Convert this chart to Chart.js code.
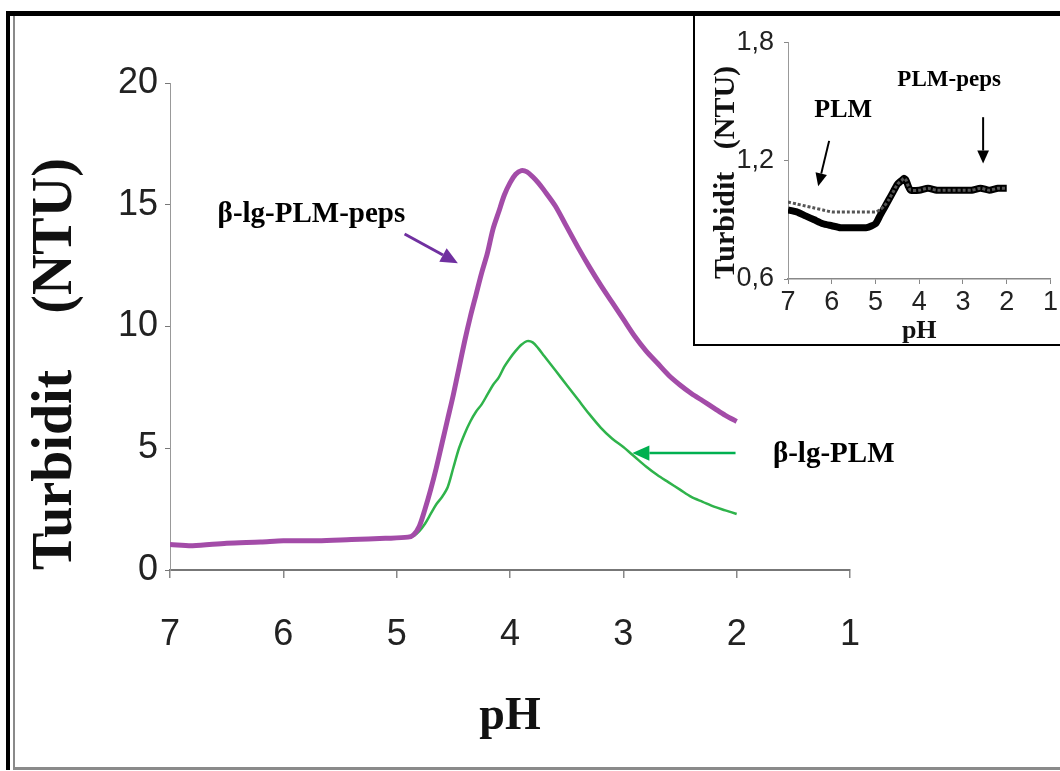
<!DOCTYPE html>
<html>
<head>
<meta charset="utf-8">
<script src="https://cdn.jsdelivr.net/npm/chart.js@4.4.1/dist/chart.umd.min.js"></script>
<style>
  html, body { margin: 0; padding: 0; background: #fff; }
  body { width: 1060px; height: 771px; position: relative; overflow: hidden; }
  #main { position: absolute; left: 0; top: 0; }
  #frame { position: absolute; left: 6px; top: 11px; width: 1060px; height: 759px; box-sizing: border-box;
           border-top: 5px solid #000; border-left: 4px solid #000; pointer-events: none; }
  #frameInner { position: absolute; left: 3px; top: 0; right: 0; bottom: 0; box-sizing: border-box;
                border-left: 2px solid #8a8a8a; border-bottom: 3px solid #8a8a8a; }
  #insetBox { position: absolute; left: 693px; top: 16px; width: 367px; height: 330px; box-sizing: border-box;
              border-left: 2px solid #000; border-bottom: 2px solid #000; background: #fff; }
  #inset { position: absolute; left: 0; top: 0; }
</style>
</head>
<body>
<canvas id="main" width="1060" height="771"></canvas>
<div id="frame"><div id="frameInner"></div></div>
<div id="insetBox"><canvas id="inset" width="365" height="328"></canvas></div>
<script>
// main plot: turbidity (NTU) against pH, titration from pH 7 down to 2
const phMain = [7.0, 6.8, 6.5, 6.2, 6.0, 5.7, 5.4, 5.1, 4.9, 4.85,
  4.8, 4.75, 4.7, 4.65, 4.6, 4.55, 4.5, 4.45, 4.4, 4.35,
  4.3, 4.25, 4.2, 4.15, 4.1, 4.05, 4.0, 3.95, 3.9, 3.85,
  3.8, 3.75, 3.7, 3.6, 3.5, 3.4, 3.3, 3.2, 3.1, 3.0,
  2.9, 2.8, 2.7, 2.6, 2.5, 2.4, 2.3, 2.2, 2.1, 2.0];
const lgPlmPeps = [1.05, 1.0, 1.1, 1.15, 1.2, 1.2, 1.25, 1.3, 1.35, 1.45,
  1.8, 2.5, 3.3, 4.2, 5.2, 6.2, 7.2, 8.3, 9.4, 10.4,
  11.3, 12.2, 13.0, 14.0, 14.7, 15.4, 15.9, 16.25, 16.4, 16.35,
  16.15, 15.9, 15.6, 14.95, 14.1, 13.25, 12.45, 11.7, 11.0, 10.3,
  9.6, 9.0, 8.5, 8.0, 7.6, 7.25, 6.95, 6.65, 6.35, 6.1];
const lgPlm = [1.05, 1.0, 1.1, 1.15, 1.2, 1.2, 1.25, 1.3, 1.35, 1.4,
  1.6, 1.9, 2.3, 2.7, 3.0, 3.4, 4.2, 5.0, 5.6, 6.1,
  6.5, 6.8, 7.2, 7.6, 7.9, 8.35, 8.7, 9.0, 9.25, 9.4,
  9.35, 9.1, 8.8, 8.2, 7.6, 7.0, 6.4, 5.85, 5.4, 5.05,
  4.65, 4.25, 3.9, 3.6, 3.3, 3.0, 2.8, 2.6, 2.45, 2.3];

// inset: the polymer alone and with peptides
const phInset = [7.0, 6.8, 6.6, 6.4, 6.2, 6.0, 5.8, 5.6, 5.4, 5.2,
  5.0, 4.9, 4.8, 4.7, 4.6, 4.5, 4.4, 4.35, 4.3, 4.25,
  4.2, 4.0, 3.8, 3.6, 3.4, 3.2, 3.0, 2.8, 2.6, 2.4, 2.2, 2.0];
const plm = [0.95, 0.94, 0.92, 0.90, 0.88, 0.87, 0.86, 0.86, 0.86, 0.86,
  0.88, 0.92, 0.96, 1.00, 1.04, 1.08, 1.10, 1.11, 1.10, 1.07,
  1.05, 1.05, 1.06, 1.05, 1.05, 1.05, 1.05, 1.05, 1.06, 1.05, 1.06, 1.06];
const plmPeps = [0.99, 0.98, 0.97, 0.96, 0.95, 0.94, 0.94, 0.94, 0.94, 0.94,
  0.94, 0.95, 0.97, 1.00, 1.04, 1.08, 1.10, 1.11, 1.10, 1.07,
  1.05, 1.05, 1.06, 1.05, 1.05, 1.05, 1.05, 1.05, 1.06, 1.05, 1.06, 1.06];

const xTicksMain = [7, 6, 5, 4, 3, 2, 1];
const yTicksMain = [0, 5, 10, 15, 20];
const yTicksInset = [0.6, 1.2, 1.8];

const SANS = '"Liberation Sans", Arial, sans-serif';
const SERIF = '"Liberation Serif", "Times New Roman", serif';

function pts(xs, ys) {
  return xs.map((x, i) => ({ x: x, y: ys[i] }));
}

function drawArrow(ctx, x1, y1, x2, y2, color, w, head) {
  const a = Math.atan2(y2 - y1, x2 - x1);
  const bx = x2 - head * Math.cos(a), by = y2 - head * Math.sin(a);
  ctx.strokeStyle = color;
  ctx.fillStyle = color;
  ctx.lineWidth = w;
  ctx.beginPath();
  ctx.moveTo(x1, y1);
  ctx.lineTo(bx, by);
  ctx.stroke();
  ctx.beginPath();
  ctx.moveTo(x2, y2);
  ctx.lineTo(bx + head * 0.45 * Math.sin(a), by - head * 0.45 * Math.cos(a));
  ctx.lineTo(bx - head * 0.45 * Math.sin(a), by + head * 0.45 * Math.cos(a));
  ctx.closePath();
  ctx.fill();
}

// labels and arrows placed in data coordinates
const arrowLabels = {
  id: 'arrowLabels',
  afterDatasetsDraw(chart, args, opts) {
    const { ctx } = chart;
    const sx = chart.scales.x, sy = chart.scales.y;
    ctx.save();
    (opts.items || []).forEach(it => {
      if (it.text) {
        ctx.font = it.font;
        ctx.fillStyle = '#000';
        ctx.textBaseline = 'alphabetic';
        ctx.textAlign = 'left';
        ctx.fillText(it.text, sx.getPixelForValue(it.at[0]), sy.getPixelForValue(it.at[1]));
      } else {
        drawArrow(ctx, sx.getPixelForValue(it.from[0]), sy.getPixelForValue(it.from[1]),
          sx.getPixelForValue(it.to[0]), sy.getPixelForValue(it.to[1]), it.color, it.width, it.head);
      }
    });
    ctx.restore();
  }
};

function fixedTicks(values) {
  return scale => { scale.ticks = values.map(v => ({ value: v })); };
}

new Chart(document.getElementById('main'), {
  type: 'line',
  data: {
    datasets: [
      { label: 'β-lg-PLM-peps', data: pts(phMain, lgPlmPeps), borderColor: '#a34ca8',
        borderWidth: 5, pointRadius: 0, tension: 0.3 },
      { label: 'β-lg-PLM', data: pts(phMain, lgPlm), borderColor: '#2fb34b',
        borderWidth: 2.5, pointRadius: 0, tension: 0.3 }
    ]
  },
  options: {
    responsive: false,
    animation: false,
    events: [],
    layout: { padding: { left: 0, top: 83, right: 210, bottom: 0 } },
    plugins: {
      legend: { display: false },
      tooltip: { enabled: false },
      arrowLabels: {
        items: [
          { text: 'β-lg-PLM-peps', at: [6.58, 14.3], font: 'bold 29px ' + SERIF },
          { from: [4.93, 13.8], to: [4.46, 12.6], color: '#7030a0', width: 3, head: 17 },
          { text: 'β-lg-PLM', at: [1.68, 4.43], font: 'bold 29px ' + SERIF },
          { from: [2.01, 4.8], to: [2.92, 4.8], color: '#00b050', width: 2.5, head: 17 }
        ]
      }
    },
    scales: {
      x: {
        type: 'linear', reverse: true, min: 1, max: 7,
        afterFit: s => { s.height = 201; },
        afterBuildTicks: fixedTicks(xTicksMain),
        ticks: { padding: 35, color: '#222', font: { family: SANS, size: 36 } },
        grid: { drawOnChartArea: false, tickLength: 8, color: '#888', lineWidth: 1.5 },
        border: { color: '#777', width: 2 },
        title: { display: true, text: 'pH', color: '#111',
          font: { family: SERIF, size: 46, weight: 'bold' }, padding: { top: 0, bottom: 26 } }
      },
      y: {
        type: 'linear', min: 0, max: 20,
        afterFit: s => { s.width = 170; },
        afterBuildTicks: fixedTicks(yTicksMain),
        ticks: { padding: 7, color: '#222', font: { family: SANS, size: 36 } },
        grid: { drawOnChartArea: false, tickLength: 5, color: '#777' },
        border: { color: '#999', width: 1, dash: [2, 2] },
        title: { display: true, text: 'Turbidit    (NTU)', align: 'start', color: '#111',
          font: { family: SERIF, size: 56, weight: 'bold' }, padding: { top: 23, bottom: 0 } }
      }
    }
  },
  plugins: [arrowLabels]
});

new Chart(document.getElementById('inset'), {
  type: 'line',
  data: {
    datasets: [
      { label: 'PLM-peps', data: pts(phInset, plmPeps), borderColor: '#555',
        borderWidth: 3, borderDash: [3, 2], pointRadius: 0, tension: 0.2 },
      { label: 'PLM', data: pts(phInset, plm), borderColor: '#000',
        borderWidth: 7, pointRadius: 0, tension: 0.2 }
    ]
  },
  options: {
    responsive: false,
    animation: false,
    events: [],
    layout: { padding: { left: 0, top: 25, right: 3, bottom: 0 } },
    plugins: {
      legend: { display: false },
      tooltip: { enabled: false },
      arrowLabels: {
        items: [
          { text: 'PLM', at: [6.40, 1.42], font: 'bold 26px ' + SERIF },
          { from: [6.06, 1.30], to: [6.31, 1.07], color: '#000', width: 2, head: 13 },
          { text: 'PLM-peps', at: [4.50, 1.58], font: 'bold 23px ' + SERIF },
          { from: [2.54, 1.42], to: [2.54, 1.185], color: '#000', width: 2, head: 13 }
        ]
      }
    },
    scales: {
      x: {
        type: 'linear', reverse: true, min: 1, max: 7,
        afterFit: s => { s.height = 65; },
        afterBuildTicks: fixedTicks(xTicksMain),
        ticks: { padding: 2, color: '#222', font: { family: SANS, size: 27 } },
        grid: { drawOnChartArea: false, tickLength: 5, color: '#888' },
        border: { color: '#888', width: 1.5 },
        title: { display: true, text: 'pH', color: '#111',
          font: { family: SERIF, size: 26, weight: 'bold', lineHeight: 1 }, padding: { top: 0, bottom: 0 } }
      },
      y: {
        type: 'linear', min: 0.6, max: 1.8,
        afterFit: s => { s.width = 93; },
        afterBuildTicks: fixedTicks(yTicksInset),
        ticks: { padding: 10, color: '#222', font: { family: SANS, size: 27 },
          callback: v => v.toFixed(1).replace('.', ',') },
        grid: { drawOnChartArea: false, tickLength: 4, color: '#888' },
        border: { color: '#999', width: 1, dash: [2, 2] },
        title: { display: true, text: 'Turbidit   (NTU)', align: 'start', color: '#111',
          font: { family: SERIF, size: 30, weight: 'bold' }, padding: { top: 13, bottom: 0 } }
      }
    }
  },
  plugins: [arrowLabels]
});
</script>
</body>
</html>
